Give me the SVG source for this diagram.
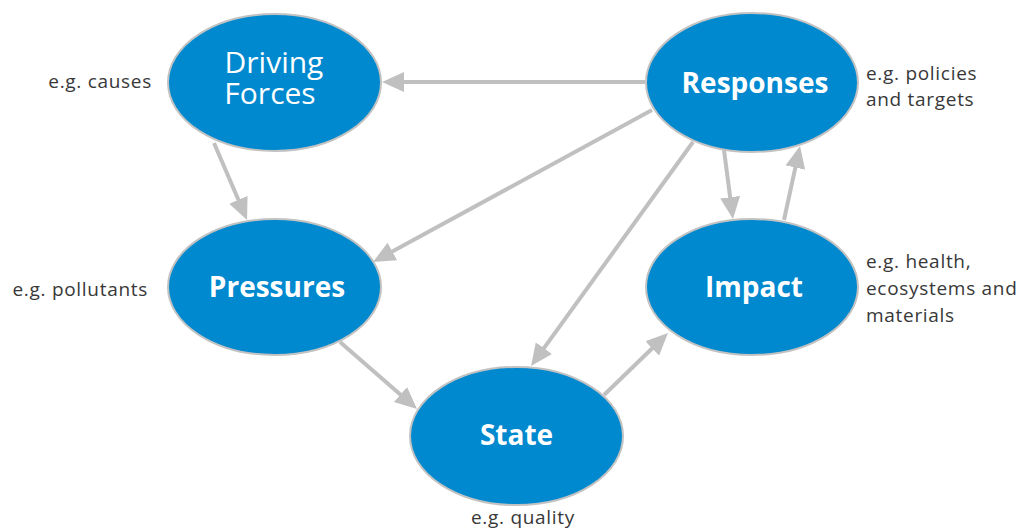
<svg xmlns="http://www.w3.org/2000/svg" width="1022" height="529" viewBox="0 0 1022 529">
<style>
.node{fill:#0089cf;stroke:#c2c2c2;stroke-width:2}
.t{fill:#fff;font-family:"Open Sans","Liberation Sans",sans-serif;font-size:28px;font-weight:700;text-anchor:middle}
.t2{fill:#fff;font-family:"Open Sans","Liberation Sans",sans-serif;font-size:30px;font-weight:500;text-anchor:middle}
.lbl{fill:#383838;font-family:"Open Sans","Liberation Sans",sans-serif;font-size:19px;letter-spacing:0.7px}
.c{stroke:#c0c0c0;stroke-width:4;fill:none;marker-end:url(#ah)}
</style>
<defs>
<marker id="ah" markerUnits="userSpaceOnUse" markerWidth="24" markerHeight="22" refX="12" refY="10" orient="auto">
<path d="M0,0 L22,10 L0,20 z" fill="#c0c0c0"/>
</marker>
</defs>
<g id="connectors">
<line class="c" x1="645" y1="82" x2="392" y2="82"/>
<line class="c" x1="214" y1="143" x2="243.1" y2="210.8"/>
<line class="c" x1="652" y1="110" x2="381.8" y2="257.2"/>
<line class="c" x1="693" y1="142" x2="536.9" y2="357.9"/>
<line class="c" x1="724" y1="150" x2="731.7" y2="209.1"/>
<line class="c" x1="784" y1="220" x2="797.9" y2="155.8"/>
<line class="c" x1="340" y1="342" x2="409.5" y2="402.4"/>
<line class="c" x1="604" y1="395" x2="660.8" y2="340"/>
</g>
<g id="driving-forces">
<ellipse class="node" cx="274.5" cy="82.5" rx="106.5" ry="68.5"/>
<text class="t2" x="274" y="73">Driving</text>
<text class="t2" x="270" y="104">Forces</text>
<text class="lbl" x="152" y="88" text-anchor="end">e.g. causes</text>
</g>
<g id="responses">
<ellipse class="node" cx="752" cy="82.5" rx="106" ry="69.5"/>
<text class="t" x="755" y="93">Responses</text>
<text class="lbl" x="866" y="80">e.g. policies</text>
<text class="lbl" x="866" y="106">and targets</text>
</g>
<g id="pressures">
<ellipse class="node" cx="274.5" cy="287" rx="106.5" ry="68"/>
<text class="t" x="277" y="297">Pressures</text>
<text class="lbl" x="148" y="296" text-anchor="end">e.g. pollutants</text>
</g>
<g id="impact">
<ellipse class="node" cx="752" cy="287" rx="106" ry="68"/>
<text class="t" x="754" y="297">Impact</text>
<text class="lbl" x="866" y="268">e.g. health,</text>
<text class="lbl" x="866" y="295">ecosystems and</text>
<text class="lbl" x="866" y="322">materials</text>
</g>
<g id="state">
<ellipse class="node" cx="516.5" cy="436" rx="106.5" ry="69"/>
<text class="t" x="516.5" y="445">State</text>
<text class="lbl" x="523" y="524" text-anchor="middle">e.g. quality</text>
</g>
</svg>
